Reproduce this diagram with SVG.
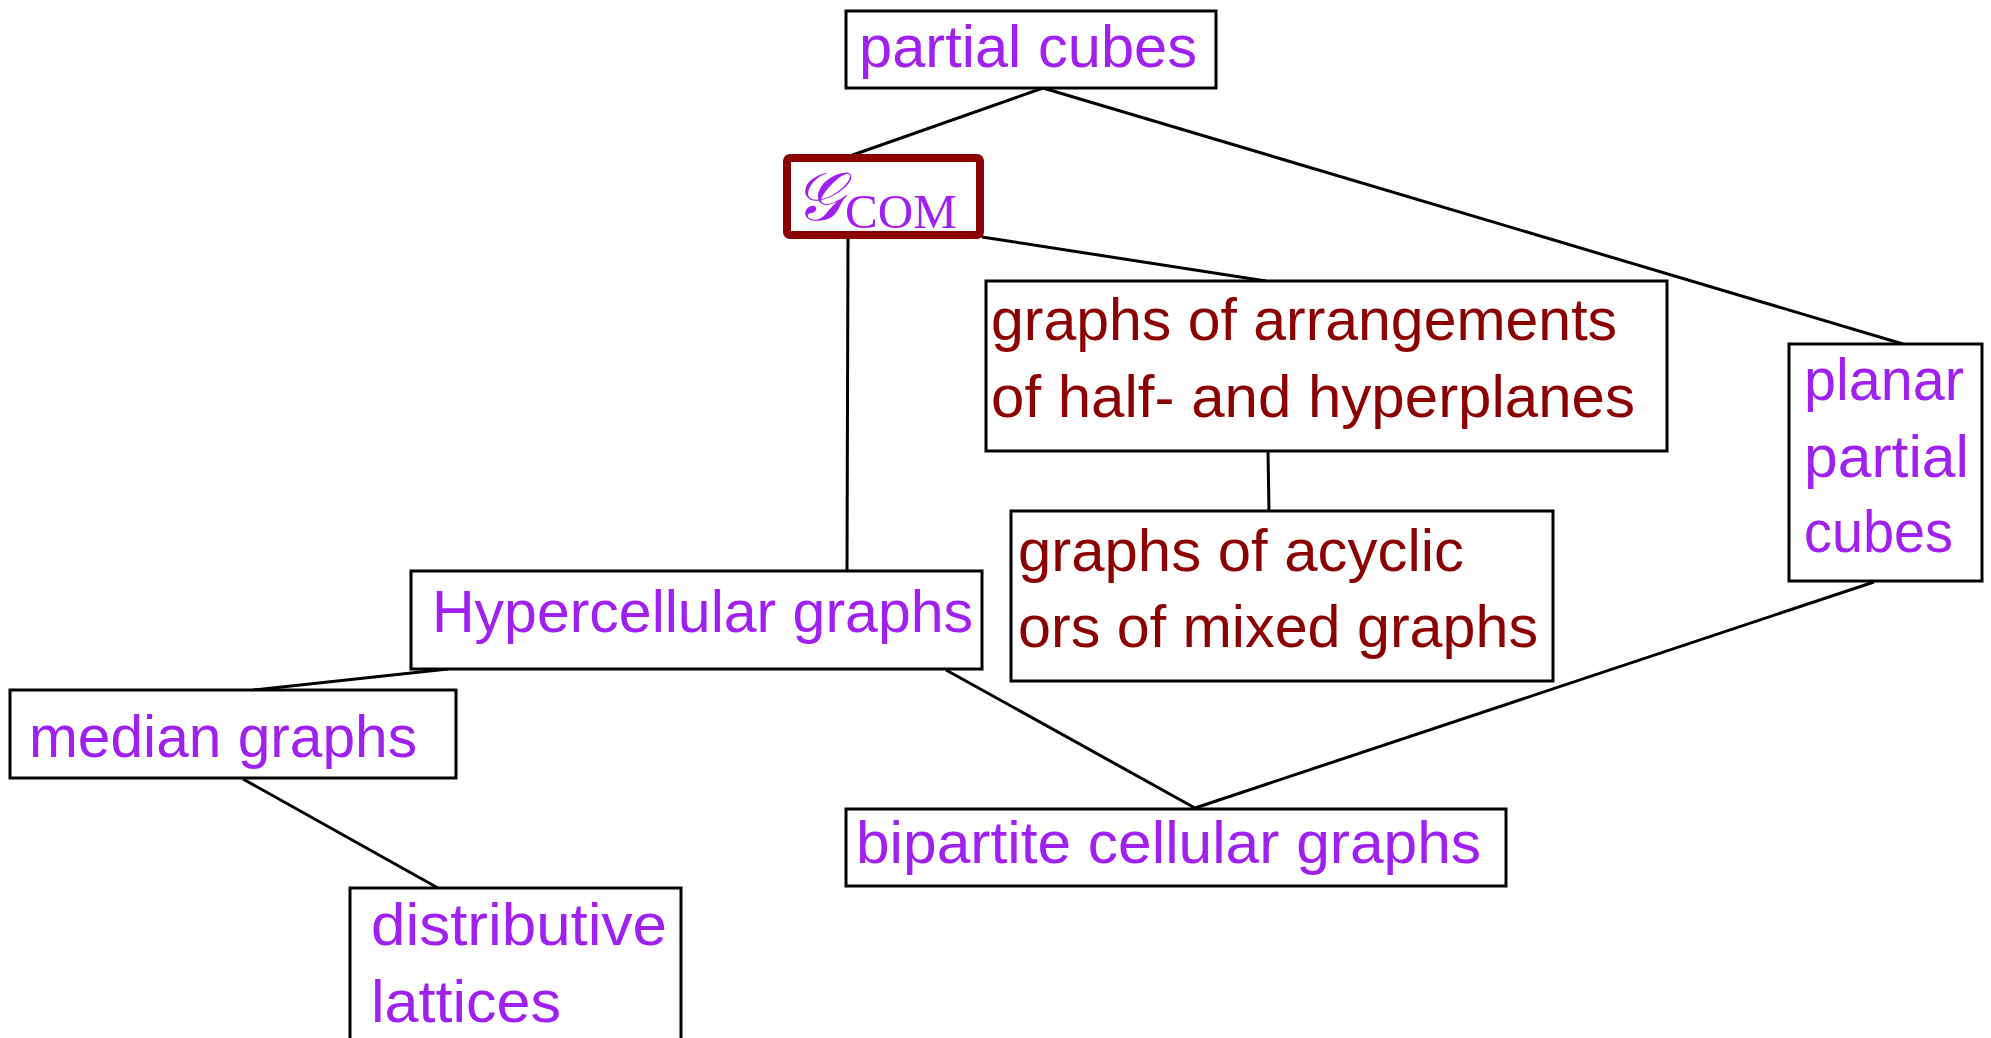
<svg xmlns="http://www.w3.org/2000/svg" width="1991" height="1038" viewBox="0 0 1991 1038">
<style>
  .box { fill: #ffffff; stroke: #000000; stroke-width: 3; }
  .com { fill: #ffffff; stroke: #8b0000; stroke-width: 8; }
  .edge { stroke: #000000; stroke-width: 3; fill: none; }
  .p { font-family: "Liberation Sans", Arial, sans-serif; font-size: 60px; fill: #a020f0; }
  .r { font-family: "Liberation Sans", Arial, sans-serif; font-size: 60px; fill: #8b0000; }
</style>
<rect width="1991" height="1038" fill="#ffffff"/>
<g id="connectors">
  <line class="edge" x1="1043" y1="88" x2="847" y2="157"/>
  <line class="edge" x1="1043" y1="88" x2="1903" y2="344"/>
  <line class="edge" x1="982" y1="237" x2="1266" y2="281"/>
  <line class="edge" x1="848" y1="239" x2="847" y2="571"/>
  <line class="edge" x1="1268" y1="451" x2="1269" y2="511"/>
  <line class="edge" x1="448" y1="669" x2="253" y2="690"/>
  <line class="edge" x1="243" y1="779" x2="438" y2="888"/>
  <line class="edge" x1="946" y1="670" x2="1195" y2="808"/>
  <line class="edge" x1="1874" y1="582" x2="1195" y2="808"/>
</g>
<g id="partial-cubes">
  <rect class="box" x="846" y="11" width="370" height="77"/>
  <text class="p" x="859" y="67" textLength="338" lengthAdjust="spacingAndGlyphs">partial cubes</text>
</g>
<g id="gcom">
  <rect class="com" x="787" y="158" width="193" height="77" rx="3"/>
  <text x="794" y="220" font-family="'DejaVu Serif', 'Liberation Serif', serif" font-style="italic" font-size="68" fill="#a020f0">𝒢</text>
  <text x="845" y="228" font-family="'Liberation Serif', 'DejaVu Serif', serif" font-size="49" fill="#a020f0" textLength="112" lengthAdjust="spacingAndGlyphs">COM</text>
</g>
<g id="arrangements">
  <rect class="box" x="986" y="281" width="681" height="170"/>
  <text class="r" x="991" y="340" textLength="626" lengthAdjust="spacingAndGlyphs">graphs of arrangements</text>
  <text class="r" x="991" y="417" textLength="644" lengthAdjust="spacingAndGlyphs">of half- and hyperplanes</text>
</g>
<g id="acyclic">
  <rect class="box" x="1011" y="511" width="542" height="170"/>
  <text class="r" x="1018" y="571" textLength="446" lengthAdjust="spacingAndGlyphs">graphs of acyclic</text>
  <text class="r" x="1018" y="647" textLength="520" lengthAdjust="spacingAndGlyphs">ors of mixed graphs</text>
</g>
<g id="planar">
  <rect class="box" x="1789" y="344" width="193" height="237"/>
  <text class="p" x="1804" y="400" textLength="160" lengthAdjust="spacingAndGlyphs">planar</text>
  <text class="p" x="1804" y="477" textLength="165" lengthAdjust="spacingAndGlyphs">partial</text>
  <text class="p" x="1804" y="552" textLength="149" lengthAdjust="spacingAndGlyphs">cubes</text>
</g>
<g id="hypercellular">
  <rect class="box" x="411" y="571" width="571" height="98"/>
  <text class="p" x="432" y="632" textLength="541" lengthAdjust="spacingAndGlyphs">Hypercellular graphs</text>
</g>
<g id="median">
  <rect class="box" x="10" y="690" width="446" height="88"/>
  <text class="p" x="29" y="757" textLength="388" lengthAdjust="spacingAndGlyphs">median graphs</text>
</g>
<g id="distributive">
  <rect class="box" x="350" y="888" width="331" height="170"/>
  <text class="p" x="371" y="945" textLength="296" lengthAdjust="spacingAndGlyphs">distributive</text>
  <text class="p" x="371" y="1022" textLength="190" lengthAdjust="spacingAndGlyphs">lattices</text>
</g>
<g id="bipartite">
  <rect class="box" x="846" y="809" width="660" height="77"/>
  <text class="p" x="856" y="863" textLength="625" lengthAdjust="spacingAndGlyphs">bipartite cellular graphs</text>
</g>
</svg>
